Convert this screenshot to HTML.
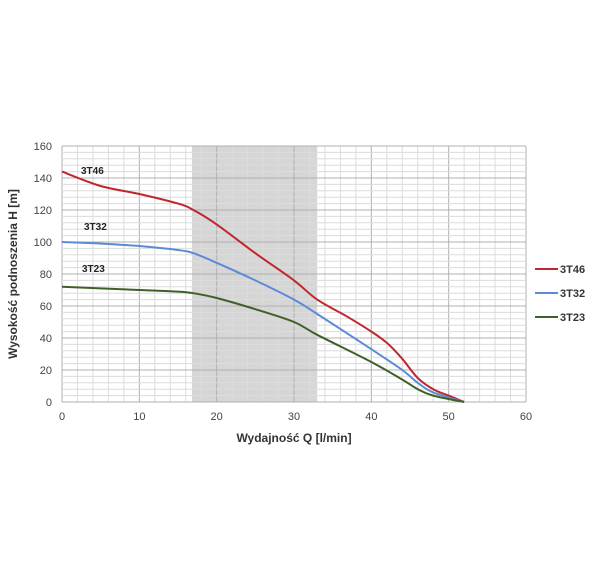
<!DOCTYPE html>
<html><head><meta charset="utf-8"><style>
body{margin:0;background:#fff;width:600px;height:571px;overflow:hidden}
svg text{font-family:"Liberation Sans",sans-serif}
</style></head><body>
<svg id="s" width="600" height="571" xmlns="http://www.w3.org/2000/svg"></svg>
<script>
const s=document.getElementById('s');
const X=v=>62+v*464/60, Y=v=>402-v*1.6;
let h='';
h+=`<rect x="${X(16.8)}" y="${Y(160)}" width="${X(33)-X(16.8)}" height="${Y(0)-Y(160)}" fill="#d6d6d6"/>`;
for(let v=0;v<=60;v+=2){h+=`<line x1="${X(v)}" x2="${X(v)}" y1="${Y(0)}" y2="${Y(160)}" stroke="${v%10?'#dcdcdc':'#b0b0b0'}" stroke-width="1"/>`;}
for(let v=0;v<=160;v+=4){h+=`<line x1="${X(0)}" x2="${X(60)}" y1="${Y(v)}" y2="${Y(v)}" stroke="${v%20?'#dcdcdc':'#b0b0b0'}" stroke-width="1"/>`;}
for(let v=0;v<=60;v+=10)h+=`<text x="${X(v)}" y="420" font-size="11" fill="#444" text-anchor="middle">${v}</text>`;
for(let v=0;v<=160;v+=20)h+=`<text x="52" y="${Y(v)+4}" font-size="11" fill="#444" text-anchor="end">${v}</text>`;
h+=`<text x="${X(30)}" y="442" font-size="12" font-weight="bold" fill="#333" text-anchor="middle">Wydajność Q [l/min]</text>`;
h+=`<text transform="translate(17,${Y(80)}) rotate(-90)" font-size="12" font-weight="bold" fill="#333" text-anchor="middle">Wysokość podnoszenia H [m]</text>`;
function path(pts){const p=pts.map(([a,b])=>[X(a),Y(b)]);let d=`M${p[0]}`;
for(let i=0;i<p.length-1;i++){const p0=p[i-1]||p[i],p1=p[i],p2=p[i+1],p3=p[i+2]||p2;
const c1=[p1[0]+(p2[0]-p0[0])/6,p1[1]+(p2[1]-p0[1])/6],c2=[p2[0]-(p3[0]-p1[0])/6,p2[1]-(p3[1]-p1[1])/6];
d+=` C${c1} ${c2} ${p2}`;}return d;}
const S=[
['#c0272d',[[0,144],[5,135],[10,130],[15,124],[17,120],[20,111],[25,93],[30,76],[33,64],[37,53],[40,44],[42,37],[44,27],[46,15],[48,8],[50,4],[52,0]],'3T46'],
['#5b8ad6',[[0,100],[5,99],[10,97.5],[15,95],[17,93],[20,87],[25,76],[30,64],[33,55],[40,33],[44,20],[46,12],[48,6],[52,0]],'3T32'],
['#3e6128',[[0,72],[10,70],[15,69],[17,68],[20,65],[25,58],[30,50],[33,42],[40,25],[44,14],[46,8],[48,4],[52,0]],'3T23']];
S.forEach(([c,p])=>h+=`<path d="${path(p)}" fill="none" stroke="${c}" stroke-width="2"/>`);
h+=`<text x="81" y="174" font-size="10" font-weight="bold" fill="#222">3T46</text>`;
h+=`<text x="84" y="230" font-size="10" font-weight="bold" fill="#222">3T32</text>`;
h+=`<text x="82" y="272" font-size="10" font-weight="bold" fill="#222">3T23</text>`;
S.forEach(([c,p,n],i)=>{const y=269+i*24;h+=`<line x1="535" x2="558" y1="${y}" y2="${y}" stroke="${c}" stroke-width="2"/><text x="560" y="${y+4}" font-size="11" font-weight="bold" fill="#333">${n}</text>`;});
s.innerHTML=h;
</script>
</body></html>
